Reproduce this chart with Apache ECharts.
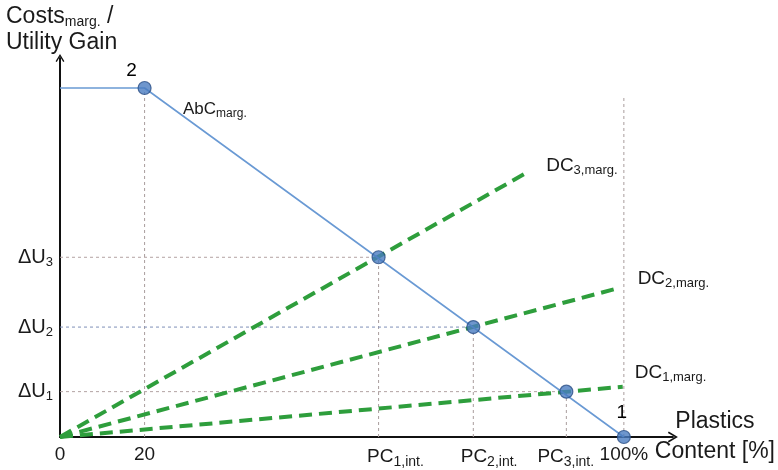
<!DOCTYPE html>
<html>
<head>
<meta charset="utf-8">
<script src="https://cdn.jsdelivr.net/npm/echarts@6/dist/echarts.min.js"></script>
<style>html,body{margin:0;padding:0;background:#fff;}#c{width:778px;height:470px;}</style>
</head>
<body>
<div id="c"></div>
<script>
// ---- data (schematic units: x 0..100 = 0..100% position, y 0..100 = utility level) ----
const xLabelVals = [0, 15, 59.5, 76.1, 89.7, 100];
const xLabelTexts = ['0', '20', 'PC{sub|1,int.}', 'PC{sub|2,int.}', 'PC{sub|3,int.}', '100%'];
const yLabelVals = [13, 31.5, 51.5];
const yLabelTexts = ['ΔU{sub|1}', 'ΔU{sub|2}', 'ΔU{sub|3}'];
const abcLine = [[0, 100], [15, 100], [100, 0]];
const dc1 = [[0, 0], [99.8, 14.4]];
const dc2 = [[0, 0], [98.9, 42.6]];
const dc3 = [[0, 0], [82.5, 75.5]];
const dcNames = ['DC{sub|1,marg.}', 'DC{sub|2,marg.}', 'DC{sub|3,marg.}'];
const points = [[15, 100], [56.5, 51.5], [73.3, 31.5], [89.8, 13], [100, 0]];
const pointLabels = ['2', '', '', '', '1'];
const vGuides = [[15, 100], [56.5, 51.5], [73.3, 31.5], [89.8, 13], [100, 98]];
const hGuides = [[56.5, 51.5], [73.3, 31.5], [89.8, 13]];

const FONT = 'Liberation Sans, Arial, sans-serif';
const TXT = '#1a1a1a';
const sub13 = { fontSize: 13, fontFamily: FONT, color: TXT, padding: [10, 0, 0, 0] };
const sub14 = { fontSize: 14, fontFamily: FONT, color: TXT, padding: [10, 0, 0, 0] };
const CHEVRON = 'path://M0,10 L6,0 L12,10 L10.4,10.9 L6,3.4 L1.6,10.9 Z';

const series = [];
// vertical guides
vGuides.forEach(function (g) {
  series.push({ type: 'line', data: [[g[0], 0], g], symbol: 'none', silent: true, z: 1,
    lineStyle: { color: '#a99d9d', width: 1, type: [3, 3] } });
});
// horizontal guides
hGuides.forEach(function (g, i) {
  series.push({ type: 'line', data: [[0, g[1]], g], symbol: 'none', silent: true, z: 1,
    lineStyle: { color: i === 1 ? '#7f90b8' : '#b3a3a3', width: 1, type: [3, 3] } });
});
// DC lines
const dcData = [dc1, dc2, dc3];
const dcOffsets = [[4, -14], [12, -10], [13, -8]];
dcData.forEach(function (d, i) {
  series.push({ type: 'line', data: d, symbol: 'none', z: 3,
    lineStyle: { color: '#2e9e3c', width: 4, type: [13, 7] },
    endLabel: { show: true, formatter: dcNames[i], offset: dcOffsets[i],
      fontSize: 19, fontFamily: FONT, color: TXT, rich: { sub: sub13 } } });
});
// AbC line
series.push({ type: 'line', data: abcLine, symbol: 'none', z: 4,
  lineStyle: { color: '#6a9ad4', width: 1.6 } });
// points
series.push({ type: 'scatter', z: 6, symbolSize: 13,
  itemStyle: { color: '#4a7cc0', borderColor: '#2a4f86', borderWidth: 1.2 },
  data: points.map(function (p, i) {
    return { value: p, label: { show: pointLabels[i] !== '', formatter: pointLabels[i],
      position: 'top', distance: i === 0 ? 1 : 8, offset: i === 0 ? [-13, 0] : [-2, 0],
      fontSize: 19, fontFamily: FONT, color: '#000', opacity: 1, textBorderWidth: 0 } };
  }) });

const option = {
  animation: false,
  backgroundColor: '#fff',
  grid: { left: 60, right: 103, top: 58, bottom: 33, containLabel: false },
  xAxis: {
    type: 'value', min: 0, max: 108.7,
    name: 'Plastics\nContent [%]', nameLocation: 'end', nameGap: 42,
    nameTextStyle: { fontSize: 23, fontFamily: FONT, color: TXT, align: 'center', verticalAlign: 'middle', lineHeight: 30, padding: [6, 0, 0, 0] },
    axisLine: { lineStyle: { color: '#111', width: 2 }, symbol: ['none', CHEVRON], symbolSize: [15, 10] },
    axisTick: { show: false },
    splitLine: { show: false },
    axisLabel: { customValues: xLabelVals, margin: 8,
      formatter: function (v) { return xLabelTexts[xLabelVals.indexOf(v)]; },
      fontSize: 19, fontFamily: FONT, color: TXT, rich: { sub: sub14 } }
  },
  yAxis: {
    type: 'value', min: 0, max: 108.6,
    axisLine: { lineStyle: { color: '#111', width: 2 }, symbol: ['none', CHEVRON], symbolSize: [11, 8] },
    axisTick: { show: false },
    splitLine: { show: false },
    axisLabel: { customValues: yLabelVals, margin: 7,
      formatter: function (v) { return yLabelTexts[yLabelVals.indexOf(v)]; },
      fontSize: 20, fontFamily: FONT, color: TXT, rich: { sub: sub13 } }
  },
  graphic: [
    { type: 'text', left: 6, top: 4, style: { text: 'Costs{sub|marg.} /\nUtility Gain', font: '23px ' + FONT, fill: TXT, lineHeight: 26,
      rich: { sub: { fontSize: 14, fontFamily: FONT, fill: TXT, padding: [11, 0, 0, 0] } } } },
    { type: 'text', left: 183, top: 101, style: { text: 'AbC{sub|marg.}', font: '17px ' + FONT, fill: TXT,
      rich: { sub: { fontSize: 12, fontFamily: FONT, fill: TXT, padding: [9, 0, 0, 0] } } } }
  ],
  series: series
};
echarts.init(document.getElementById('c'), null, { renderer: 'canvas' }).setOption(option);
</script>
</body>
</html>
